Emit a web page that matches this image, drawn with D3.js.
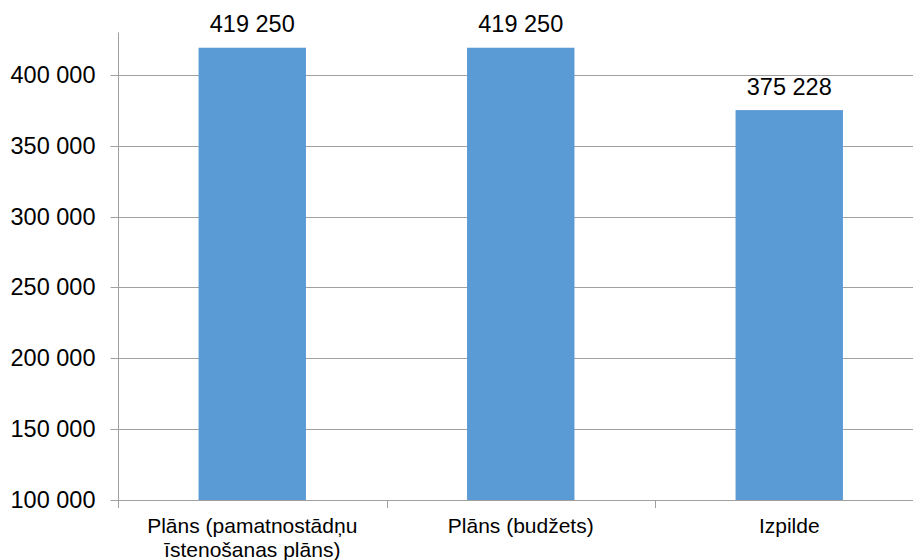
<!DOCTYPE html>
<html>
<head>
<meta charset="utf-8">
<script src="https://cdn.jsdelivr.net/npm/d3@7"></script>
<style>
  html, body { margin: 0; padding: 0; background: #fff; }
  svg { display: block; font-family: "Liberation Sans", Arial, sans-serif; }
</style>
</head>
<body>
<svg id="chart" width="913" height="560"></svg>
<script>
const categories = ["Plāns (pamatnostādņu īstenošanas plāns)", "Plāns (budžets)", "Izpilde"];
const values = [419250, 419250, 375228];
const yTicks = [100000, 150000, 200000, 250000, 300000, 350000, 400000];
const yDomain = [100000, 430000];

const svg = d3.select("#chart");
const plotLeft = 118, plotRight = 923.5, plotTop = 32.5, plotBottom = 500;
const lineColor = "#a0a0a0";
const barColor = "#5b9bd5";
const catFontSize = 21;
const numFontSize = 23.5;

const loc = d3.formatLocale({ decimal: ",", thousands: " ", grouping: [3], currency: ["", ""] });
const fmt = loc.format(",.0f");

const x = d3.scaleBand().domain(categories).range([plotLeft, plotRight]).paddingInner(0.6).paddingOuter(0.3);
const y = d3.scaleLinear().domain(yDomain).range([plotBottom, plotTop]);

// gridlines
svg.append("g").selectAll("line").data(yTicks.filter(d => d !== yDomain[0])).join("line")
  .attr("x1", plotLeft).attr("x2", 913)
  .attr("y1", d => Math.round(y(d)) + 0.5).attr("y2", d => Math.round(y(d)) + 0.5)
  .attr("stroke", lineColor).attr("stroke-width", 1);

// bars
svg.append("g").selectAll("rect").data(values).join("rect")
  .attr("x", (d, i) => x(categories[i]))
  .attr("width", x.bandwidth())
  .attr("y", d => y(d))
  .attr("height", d => y(yDomain[0]) - y(d))
  .attr("fill", barColor);

// data labels
svg.append("g").selectAll("text").data(values).join("text")
  .attr("x", (d, i) => x(categories[i]) + x.bandwidth() / 2)
  .attr("y", d => y(d) - 15.5)
  .attr("text-anchor", "middle")
  .attr("font-size", numFontSize)
  .attr("fill", "#000")
  .text(d => fmt(d));

// y axis
const yAxis = d3.axisLeft(y).tickValues(yTicks).tickSize(8).tickPadding(15).tickFormat(fmt);
const gy = svg.append("g").attr("transform", `translate(${plotLeft + 0.5},0)`).call(yAxis);
gy.select(".domain").attr("stroke", lineColor).attr("d", `M0,${plotTop}V${plotBottom}`);
gy.selectAll(".tick line").attr("stroke", lineColor);
gy.selectAll(".tick").attr("transform", d => `translate(0,${Math.round(y(d)) + 0.5})`);
gy.selectAll(".tick text").attr("font-size", numFontSize).attr("fill", "#000")
  .attr("font-family", "Liberation Sans, Arial, sans-serif");

// x axis line
svg.append("line").attr("x1", plotLeft).attr("x2", 913)
  .attr("y1", plotBottom + 0.5).attr("y2", plotBottom + 0.5).attr("stroke", lineColor);

// category boundary ticks
const bounds = categories.map((c, i) => plotLeft + i * x.step());
svg.append("g").selectAll("line").data(bounds).join("line")
  .attr("x1", d => Math.round(d) + 0.5).attr("x2", d => Math.round(d) + 0.5)
  .attr("y1", plotBottom).attr("y2", plotBottom + 8).attr("stroke", lineColor);

// category labels (wrapped)
const labels = svg.append("g").selectAll("text").data(categories).join("text")
  .attr("text-anchor", "middle")
  .attr("font-size", catFontSize)
  .attr("fill", "#000")
  .attr("x", d => x(d) + x.bandwidth() / 2)
  .attr("y", plotBottom + 33);

labels.each(function(d) {
  const t = d3.select(this);
  const words = d.split(" ");
  const maxW = x.step() * 0.95;
  let lines = [], line = [];
  const probe = t.append("tspan");
  words.forEach(w => {
    const trial = line.concat([w]).join(" ");
    probe.text(trial);
    if (probe.node().getComputedTextLength() > maxW && line.length) {
      lines.push(line.join(" "));
      line = [w];
    } else {
      line.push(w);
    }
  });
  lines.push(line.join(" "));
  probe.remove();
  const cx = t.attr("x");
  lines.forEach((l, i) => {
    t.append("tspan").attr("x", cx).attr("dy", i === 0 ? 0 : 23.5).text(l);
  });
});
</script>
</body>
</html>
